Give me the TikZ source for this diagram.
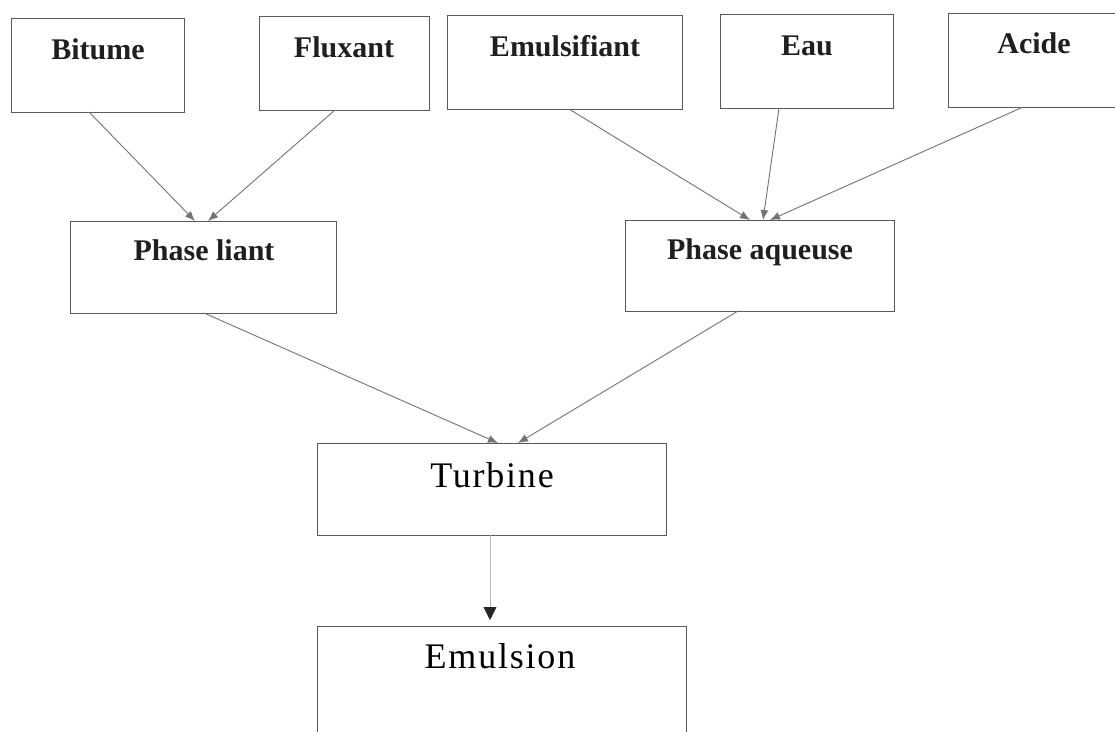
\documentclass[tikz,border=0pt]{standalone}
\usepackage{fontspec}
\setmainfont{Liberation Serif}
\usetikzlibrary{arrows.meta}
\tikzset{
  box/.style={draw=black!65, line width=0.9pt, inner sep=0pt, outer sep=0pt},
  toplabel/.style={anchor=base, inner sep=0pt, font=\fontsize{30}{36}\selectfont\bfseries, text=black!88},
  biglabel/.style={anchor=base, inner sep=0pt, font=\fontsize{36}{42}\selectfont\addfontfeature{LetterSpace=5}, text=black},
  flow/.style={color=black!55, line width=0.9pt, -{Latex[length=10pt,width=8pt]}},
  lastflow/.style={line width=0.8pt, -{Triangle[length=13pt,width=13pt,color=black!85,fill=black!85]}, draw=black!30}
}
\begin{document}
\begin{tikzpicture}[x=1pt,y=-1pt]
\useasboundingbox (0,0) rectangle (1115,731);
% boxes
\node[box, minimum width=173pt, minimum height=94pt] (bitume) at (97.5,65) {};
\node[box, minimum width=170pt, minimum height=94pt] (fluxant) at (344,63) {};
\node[box, minimum width=235pt, minimum height=94pt] (emulsifiant) at (564.5,62) {};
\node[box, minimum width=173pt, minimum height=94pt] (eau) at (806.5,61) {};
\node[box, minimum width=172pt, minimum height=94pt] (acide) at (1034,60) {};
\node[box, minimum width=266pt, minimum height=92pt] (liant) at (203,267) {};
\node[box, minimum width=269pt, minimum height=91pt] (aqueuse) at (759.5,265.5) {};
\node[box, minimum width=349pt, minimum height=92pt] (turbine) at (491.5,489) {};
\node[box, minimum width=369pt, minimum height=119pt] (emulsion) at (501.5,685.5) {};
% labels
\node[toplabel] (tbitume) at (98,59) {Bitume};
\node[toplabel] (tfluxant) at (344,57) {Fluxant};
\node[toplabel] (temulsifiant) at (565,56) {Emulsifiant};
\node[toplabel] (teau) at (807,55) {Eau};
\node[toplabel] (tacide) at (1034,53) {Acide};
\node[toplabel] (tliant) at (204,260) {Phase liant};
\node[toplabel] (taqueuse) at (760,259) {Phase aqueuse};
\node[biglabel] (tturbine) at (492,487) {Turbine};
\node[biglabel] (temulsion) at (500,668) {Emulsion};
% connectors
\draw[flow] ([xshift=-8.5pt]bitume.south) -- ([xshift=-8pt]liant.north);
\draw[flow] ([xshift=-9pt]fluxant.south) -- ([xshift=5pt]liant.north);
\draw[flow] ([xshift=4.5pt]emulsifiant.south) -- ([xshift=-9.5pt]aqueuse.north);
\draw[flow] ([xshift=-27.5pt]eau.south) -- ([xshift=3.5pt]aqueuse.north);
\draw[flow] ([xshift=-11pt]acide.south) -- ([xshift=10.5pt]aqueuse.north);
\draw[flow] ([xshift=1pt]liant.south) -- ([xshift=6.5pt]turbine.north);
\draw[flow] ([xshift=-21.5pt]aqueuse.south) -- ([xshift=26.5pt]turbine.north);
\draw[lastflow, shorten >=6pt] ([xshift=-1.5pt]turbine.south) -- ([xshift=-11.5pt]emulsion.north);
\end{tikzpicture}
\end{document}
